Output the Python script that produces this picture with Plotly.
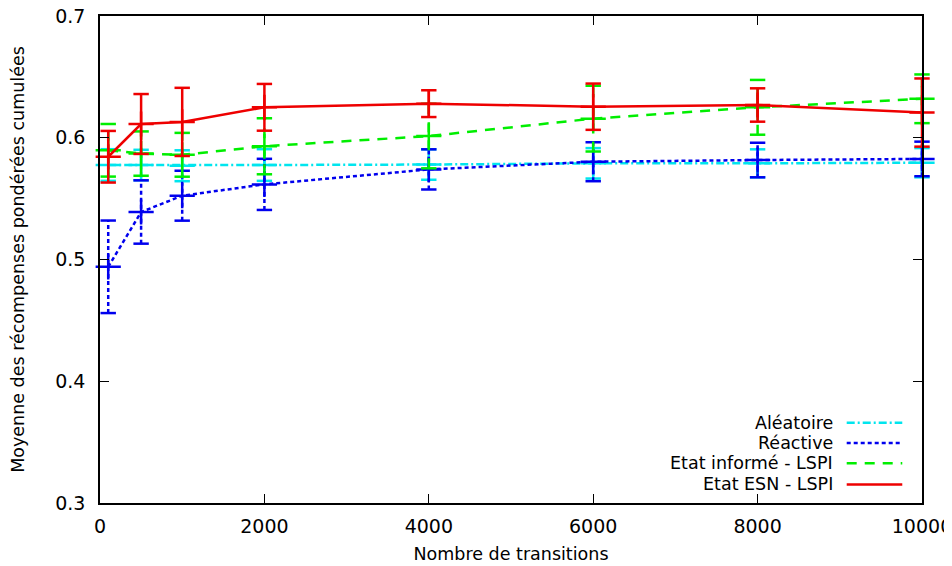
import plotly.graph_objects as go

transitions = [100, 500, 1000, 2000, 4000, 6000, 8000, 10000]

aleatoire = [0.5776, 0.5776, 0.5770, 0.5776, 0.5780, 0.5790, 0.5790, 0.5795]
aleatoire_err = [0.0130, 0.0125, 0.0127, 0.0130, 0.0125, 0.0125, 0.0115, 0.0120]

reactive = [0.4940, 0.5390, 0.5524, 0.5617, 0.5740, 0.5803, 0.5817, 0.5826]
reactive_err = [0.0380, 0.0260, 0.0205, 0.0210, 0.0165, 0.0160, 0.0142, 0.0142]

informe = [0.5897, 0.5870, 0.5860, 0.5930, 0.6014, 0.6157, 0.6250, 0.6320]
informe_err = [0.0216, 0.0182, 0.0180, 0.0230, 0.0265, 0.0270, 0.0225, 0.0200]

esn = [0.5844, 0.6113, 0.6130, 0.6250, 0.6280, 0.6255, 0.6269, 0.6207]
esn_err = [0.0212, 0.0246, 0.0280, 0.0192, 0.0110, 0.0190, 0.0137, 0.0280]

x_ticks = [0, 2000, 4000, 6000, 8000, 10000]
y_ticks = [0.3, 0.4, 0.5, 0.6, 0.7]

series = [
    ("Aléatoire", aleatoire, aleatoire_err, "#00e5ee", "8px,3px,2px,3px"),
    ("Réactive", reactive, reactive_err, "#0000ee", "4px,3px"),
    ("Etat informé - LSPI", informe, informe_err, "#00ee00", "10px,8px"),
    ("Etat ESN - LSPI", esn, esn_err, "#ee0000", "solid"),
]

fig = go.Figure()

for name, ys, errs, color, dash in series:
    # vertical error segments, drawn with the same dash as the series
    ex, ey = [], []
    for x, y, e in zip(transitions, ys, errs):
        ex += [x, x, None]
        ey += [y - e, y + e, None]
    fig.add_trace(go.Scatter(
        x=ex, y=ey, mode="lines", showlegend=False, hoverinfo="skip",
        line=dict(color=color, width=2.5, dash=dash), cliponaxis=False))
    # caps
    cx = transitions + transitions
    cy = [y - e for y, e in zip(ys, errs)] + [y + e for y, e in zip(ys, errs)]
    fig.add_trace(go.Scatter(
        x=cx, y=cy, mode="markers", showlegend=False, hoverinfo="skip",
        marker=dict(symbol="line-ew", size=11, line=dict(color=color, width=2.5)),
        cliponaxis=False))
    # main line with crosses
    fig.add_trace(go.Scatter(
        x=transitions, y=ys, mode="lines+markers", name=name, showlegend=False,
        line=dict(color=color, width=2.5, dash=dash),
        marker=dict(symbol="cross-thin", size=18, line=dict(color=color, width=2.5)),
        cliponaxis=False))

# legend drawn gnuplot-style: text on the left, sample on the right
legend_y = [0.165, 0.123, 0.0815, 0.038]
for (name, _, _, color, dash), ly in zip(series, legend_y):
    fig.add_annotation(x=0.894, y=ly, xref="paper", yref="paper", text=name,
                       showarrow=False, xanchor="right", yanchor="middle",
                       font=dict(size=17.5, color="black"))
    fig.add_shape(type="line", xref="paper", yref="paper",
                  x0=0.9084, x1=0.976, y0=ly, y1=ly,
                  line=dict(color=color, width=2.5, dash=dash))

axis_style = dict(showline=True, linecolor="black", linewidth=1.5, mirror="ticks",
                  ticks="inside", ticklen=9, tickcolor="black", tickwidth=1,
                  showgrid=False, zeroline=False, automargin=False,
                  ticklabeloverflow="allow",
                  tickfont=dict(size=19, color="black"))

fig.update_xaxes(range=[0, 10000], tickvals=x_ticks, ticktext=[str(t) for t in x_ticks],
                 ticklabelstandoff=5,
                 title=dict(text="Nombre de transitions", font=dict(size=17.5, color="black"),
                            standoff=12),
                 **axis_style)
fig.update_yaxes(range=[0.3, 0.7], tickvals=y_ticks, ticktext=[f"{t:.1f}" for t in y_ticks],
                 ticklabelstandoff=9,
                 title=dict(text="Moyenne des récompenses pondérées cumulées",
                            font=dict(size=17.5, color="black"), standoff=30),
                 **axis_style)

# the page adds an 8px body margin, so the figure is 8px smaller and the
# left/top margins are 8px narrower to put the plot frame where it belongs
fig.update_layout(
    width=944, height=558,
    margin=dict(l=92, r=30, t=8, b=63),
    paper_bgcolor="white", plot_bgcolor="white",
    font=dict(family="DejaVu Sans", size=17.5, color="black"),
    showlegend=False,
)

fig.write_html("out.html")
